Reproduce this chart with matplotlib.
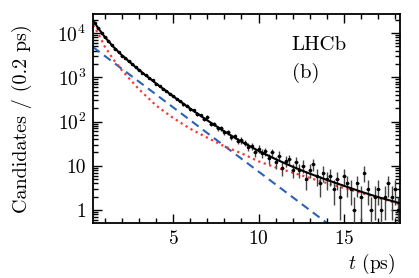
import matplotlib
matplotlib.use('Agg')
import matplotlib.pyplot as plt
from matplotlib.ticker import FixedLocator, FuncFormatter, LogLocator, NullFormatter
import numpy as np

# decay-time bins (0.2 ps wide)
bin_lo = 0.3
bin_w = 0.2
n_bins = 90
counts = [17100, 12850, 10150, 8100, 6500, 5400, 4400, 3750, 3080, 2700,
          2270, 1990, 1670, 1470, 1240, 1110, 940, 845, 712, 645,
          540, 492, 416, 378, 318, 292, 245, 228, 188, 178,
          148, 139, 114, 128, 90, 88, 71, 70, 58, 57,
          44, 46, 37, 38, 33, 27, 28, 20, 24, 19,
          21, 15, 20, 12, 17, 9, 13, 14, 8, 12,
          8, 10, 5, 8, 11, 6, 4, 7, 5, 6,
          3, 5, 2, 6, 4, 3, 1, 4, 2, 7,
          3, 1, 2, 3, 1, 2, 4, 2, 3, 1]

# fit curves, read at knots
t_knots = [0.3, 0.6, 1.0, 1.5, 2.0, 3.0, 4.0, 5.0, 6.0, 7.0, 8.0,
           9.0, 10.0, 11.0, 12.0, 13.0, 14.0, 15.0, 16.0, 17.0, 18.3]
total_fit = [19350, 12930, 8040, 4840, 3120, 1450, 722, 370, 195, 106, 59.6,
             35, 21.7, 14.1, 9.5, 6.65, 4.8, 3.53, 2.6, 1.96, 1.42]
bkg_fit = [15000, 9860, 4840, 2500, 1420, 532, 229, 120, 68.5, 43, 27.5,
           19.1, 12.6, 9.2, 7.0, 5.3, 4.07, 3.15, 2.44, 1.89, 1.35]
sig_t = [0.3, 18.3]
sig_fit = [4800, 0.029]

plt.rcParams['font.family'] = 'serif'
plt.rcParams['font.serif'] = ['cmr10', 'DejaVu Serif']
plt.rcParams['mathtext.fontset'] = 'cm'
plt.rcParams['axes.formatter.use_mathtext'] = True

fig = plt.figure(figsize=(4.19, 2.78), dpi=100)
ax = fig.add_axes([0.222, 0.198, 0.733, 0.752])

centers = bin_lo + bin_w * (np.arange(n_bins) + 0.5)
y = np.array(counts, dtype=float)
err = np.sqrt(y)
lo = np.minimum(err, y - 1e-3)
ax.errorbar(centers, y, yerr=[lo, err], xerr=bin_w / 2, fmt='o', ms=1.5,
            color='black', ecolor='#444444', elinewidth=1.0, capsize=0, zorder=3)

ax.plot(sig_t, sig_fit, color='#2a63b4', lw=1.5, ls=(0, (4, 2.6)), zorder=2)
ax.plot(t_knots, bkg_fit, color='#ff3333', lw=1.6, ls=(0, (1, 1.6)), zorder=2)
ax.plot(t_knots, total_fit, color='black', lw=1.5, zorder=4)

ax.set_yscale('log')
ax.set_xlim(0.3, 18.3)
ax.set_ylim(0.51, 2.7e4)

ax.xaxis.set_major_locator(FixedLocator([5, 10, 15]))
ax.xaxis.set_minor_locator(FixedLocator(np.arange(1, 19)))
ax.yaxis.set_major_locator(FixedLocator([1, 10, 100, 1000, 10000]))
ax.yaxis.set_minor_locator(LogLocator(base=10, subs=np.arange(2, 10)))
ax.yaxis.set_minor_formatter(NullFormatter())

def ylab(v, pos):
    if v == 1:
        return '1'
    if v == 10:
        return '10'
    return r'$10^{%d}$' % int(round(np.log10(v)))

ax.yaxis.set_major_formatter(FuncFormatter(ylab))
ax.tick_params(which='both', direction='in', top=True, right=True,
               labelsize=14, width=1.0, pad=5)
ax.tick_params(which='major', length=6.5)
ax.tick_params(which='minor', length=3.5)
for s in ax.spines.values():
    s.set_linewidth(1.3)

ax.set_ylabel('Candidates / (0.2 ps)', fontsize=14.5)
ax.yaxis.set_label_coords(-0.2, 0.5)
ax.text(0.985, -0.14, r'$t$ (ps)', transform=ax.transAxes, ha='right',
        va='top', fontsize=14)
ax.text(0.647, 0.895, 'LHCb', transform=ax.transAxes, fontsize=15, va='top')
ax.text(0.647, 0.765, '(b)', transform=ax.transAxes, fontsize=15, va='top')

fig.savefig('out.png', dpi=100)
